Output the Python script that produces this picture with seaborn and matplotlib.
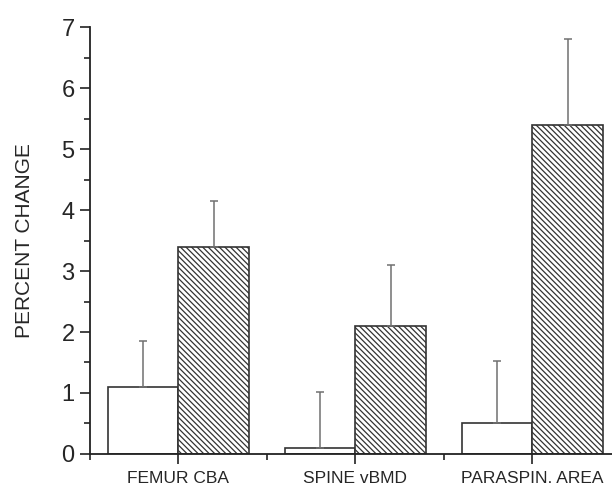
import numpy as np
import pandas as pd
import seaborn as sns
import matplotlib.pyplot as plt
from matplotlib.ticker import MultipleLocator, FixedLocator

sites = ["FEMUR CBA", "SPINE vBMD", "PARASPIN. AREA"]
groups = ["control", "treated"]
control_vals = [1.1, 0.1, 0.5]
treated_vals = [3.4, 2.1, 5.4]
control_err = [0.76, 0.92, 1.02]
treated_err = [0.75, 1.0, 1.4]

df = pd.DataFrame({
    "site": sites * 2,
    "group": [groups[0]] * 3 + [groups[1]] * 3,
    "value": control_vals + treated_vals,
})

sns.set_style("ticks")
plt.rcParams["font.family"] = ["Liberation Sans", "DejaVu Sans"]
plt.rcParams["hatch.linewidth"] = 0.9
plt.rcParams["hatch.color"] = "#333333"

fig = plt.figure(figsize=(6.12, 4.86), dpi=100)
ax = fig.add_axes([0.147, 0.066, 0.853, 0.878])

sns.barplot(data=df, x="site", y="value", hue="group", order=sites,
            hue_order=groups, errorbar=None, width=0.8, legend=False,
            palette=["white", "white"], ax=ax)

bars = ax.patches
for i, p in enumerate(bars):
    p.set_edgecolor("#333333")
    p.set_linewidth(1.2)
    if i >= 3:
        p.set_hatch("\\" * 6)

# upward error bars only
for j, (vals, errs) in enumerate([(control_vals, control_err), (treated_vals, treated_err)]):
    xs = [bars[j * 3 + k].get_x() + bars[j * 3 + k].get_width() / 2 for k in range(3)]
    ax.errorbar(xs, vals, yerr=[np.zeros(3), errs], fmt="none", ecolor="#707070",
                elinewidth=1.1, capsize=3.2, capthick=1.1, zorder=1)

ax.set_xlim(-0.5, 2.45)
ax.set_ylim(0, 7)
ax.yaxis.set_major_locator(MultipleLocator(1))
ax.yaxis.set_minor_locator(MultipleLocator(0.5))
ax.xaxis.set_minor_locator(FixedLocator([-0.5, 0.5, 1.5]))
ax.tick_params(axis="both", which="major", length=7, width=1.2, color="#222222")
ax.tick_params(axis="both", which="minor", length=4, width=1.2, color="#222222")
ax.tick_params(axis="y", labelsize=17, pad=4)
ax.tick_params(axis="x", labelsize=12.5, pad=5)
ax.set_xlabel("")
ax.set_ylabel("PERCENT CHANGE", fontsize=15, labelpad=20)
sns.despine(ax=ax)
for s in ["left", "bottom"]:
    ax.spines[s].set_linewidth(1.3)
    ax.spines[s].set_color("#222222")

fig.savefig("out.png", dpi=100)
